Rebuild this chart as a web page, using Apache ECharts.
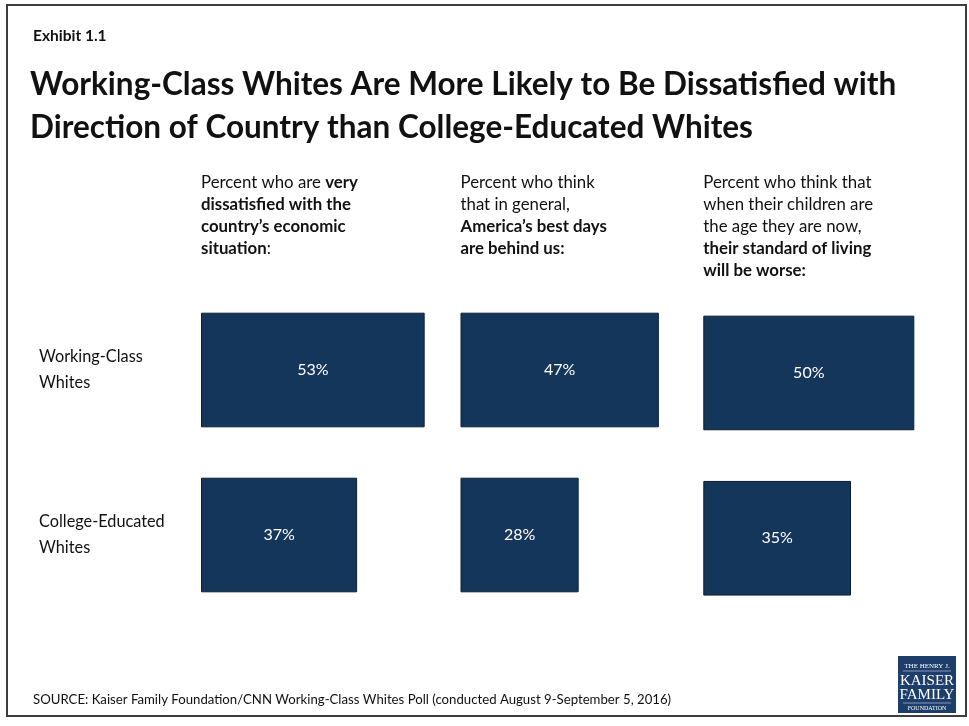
<!DOCTYPE html>
<html>
<head>
<meta charset="utf-8">
<script src="https://cdn.jsdelivr.net/npm/echarts@6/dist/echarts.min.js"></script>
<style>
  html, body { margin: 0; padding: 0; background: #fff; }
  #chart { width: 969px; height: 726px; }
</style>
</head>
<body>
<div id="chart"></div>
<script>
// Survey results: share of each group agreeing with each statement (%)
const questionHeaders = [
  'Percent who are {b|very}\n{b|dissatisfied with the}\n{b|country\u2019s economic}\n{b|situation}:',
  'Percent who think\nthat in general,\n{b|America\u2019s best days}\n{b|are behind us:}',
  'Percent who think that\nwhen their children are\nthe age they are now,\n{b|their standard of living}\n{b|will be worse:}'
];
const rowLabels = ['Working-Class\nWhites', 'College-Educated\nWhites'];
const workingClassWhites = [53, 47, 50];
const collegeEducatedWhites = [37, 28, 35];

const titleLines = 'Working-Class Whites Are More Likely to Be Dissatisfied with\nDirection of Country than College-Educated Whites';
const exhibitLabel = 'Exhibit 1.1';
const sourceNote = 'SOURCE: Kaiser Family Foundation/CNN Working-Class Whites Poll (conducted August 9-September 5, 2016)';

const FONT = 'Lato, "Open Sans", sans-serif';
const NAVY = '#15365b';

// Layout of the three panels (one per question)
const panelLeft = [201, 460.5, 703.3];
const panelTop = [287.5, 287.5, 290.3];
const panelHeight = [330, 330, 330.6];
const axisMax = 60;
const pxPerUnit = 4.22;

const grids = [], xAxes = [], yAxes = [], series = [];
for (let i = 0; i < 3; i++) {
  grids.push({ left: panelLeft[i], top: panelTop[i], width: axisMax * pxPerUnit, height: panelHeight[i] });
  xAxes.push({ type: 'value', gridIndex: i, min: 0, max: axisMax, show: false });
  yAxes.push({
    type: 'category', gridIndex: i, inverse: true, data: rowLabels,
    axisLine: { show: false }, axisTick: { show: false }, splitLine: { show: false },
    axisLabel: i === 0 ? {
      show: true, align: 'left', margin: 162, fontFamily: FONT, fontSize: 16.3,
      color: '#111', lineHeight: 26
    } : { show: false }
  });
  series.push({
    type: 'bar', xAxisIndex: i, yAxisIndex: i,
    data: [workingClassWhites[i], collegeEducatedWhites[i]],
    barWidth: 114.6,
    itemStyle: { color: NAVY, borderColor: '#0c1d35', borderWidth: 1 },
    label: {
      show: true, position: 'inside', formatter: '{c}%',
      color: '#ffffff', fontFamily: FONT, fontSize: 16
    },
    silent: true, animation: false
  });
}

const headerGraphics = questionHeaders.map((txt, i) => ({
  type: 'text', left: panelLeft[i], top: 172,
  style: {
    text: txt, fontFamily: FONT, fontSize: 16.8, lineHeight: 22, fill: '#111',
    rich: { b: { fontFamily: FONT, fontSize: 16.8, fontWeight: 'bold', lineHeight: 22, fill: '#111' } }
  }
}));

const option = {
  backgroundColor: '#ffffff',
  animation: false,
  grid: grids,
  xAxis: xAxes,
  yAxis: yAxes,
  series: series,
  graphic: [
    { type: 'rect', shape: { x: 7, y: 5, width: 959, height: 711 },
      style: { fill: 'none', stroke: '#3d3d3d', lineWidth: 2 } },
    { type: 'text', left: 33, top: 28,
      style: { text: exhibitLabel, fontFamily: FONT, fontSize: 15.5, fontWeight: 'bold', fill: '#111' } },
    { type: 'text', left: 30, top: 63,
      style: { text: titleLines, fontFamily: FONT, fontSize: 31.5, fontWeight: 'bold', lineHeight: 43, fill: '#111' } },
    ...headerGraphics,
    { type: 'text', left: 33, top: 693,
      style: { text: sourceNote, fontFamily: FONT, fontSize: 13.2, fill: '#111' } },
    // Foundation logo
    { type: 'group', left: 898, top: 656, children: [
      { type: 'rect', shape: { x: 0, y: 0, width: 58, height: 57 }, style: { fill: '#1d3d6b' } },
      { type: 'text', x: 29, y: 10, style: { text: 'THE HENRY J.', fontFamily: '"Liberation Serif", serif', fontSize: 7, fill: '#fff', align: 'center', verticalAlign: 'middle' } },
      { type: 'line', shape: { x1: 5, y1: 15, x2: 53, y2: 15 }, style: { stroke: '#cfd6e2', lineWidth: 0.6 } },
      { type: 'text', x: 29, y: 25, style: { text: 'KAISER', fontFamily: '"Liberation Serif", serif', fontSize: 15, fill: '#fff', align: 'center', verticalAlign: 'middle' } },
      { type: 'text', x: 29, y: 39, style: { text: 'FAMILY', fontFamily: '"Liberation Serif", serif', fontSize: 15, fill: '#fff', align: 'center', verticalAlign: 'middle' } },
      { type: 'line', shape: { x1: 5, y1: 47, x2: 53, y2: 47 }, style: { stroke: '#cfd6e2', lineWidth: 0.6 } },
      { type: 'text', x: 29, y: 52, style: { text: 'FOUNDATION', fontFamily: '"Liberation Serif", serif', fontSize: 6, fill: '#fff', align: 'center', verticalAlign: 'middle' } }
    ] }
  ]
};

const chart = echarts.init(document.getElementById('chart'), null, { renderer: 'canvas' });
chart.setOption(option);
</script>
</body>
</html>
